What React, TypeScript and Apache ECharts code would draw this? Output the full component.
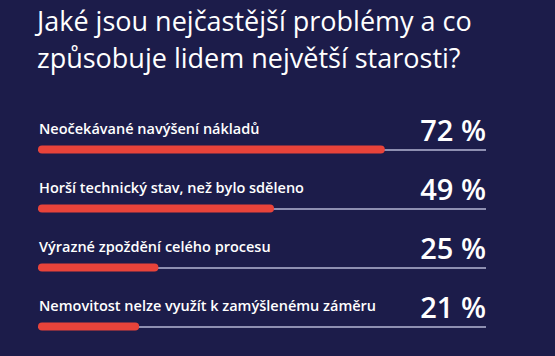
import React, { useEffect, useRef } from "react";
import * as echarts from "echarts";

const titleLines = ["Jaké jsou nejčastější problémy a co", "způsobuje lidem největší starosti?"];
const categories = [
  "Neočekávané navýšení nákladů",
  "Horší technický stav, než bylo sděleno",
  "Výrazné zpoždění celého procesu",
  "Nemovitost nelze využít k zamýšlenému záměru",
];
const values = [72, 49, 25, 21];
const axisMax = 93;

export default function App() {
  const ref = useRef<HTMLDivElement>(null);
  useEffect(() => {
    if (!ref.current) return;
    const chart = echarts.init(ref.current, null, { renderer: "svg" });
    chart.setOption({
      animation: false,
      backgroundColor: "#1c1c4a",
      title: {
        text: titleLines.join("\n"),
        left: 32,
        top: -3,
        textStyle: {
          color: "#ffffff",
          fontFamily: "Open Sans",
          fontWeight: 400,
          fontSize: 27,
          lineHeight: 37,
        },
      },
      grid: { left: 38, width: 448, top: 120, height: 245 },
      xAxis: { type: "value", min: 0, max: axisMax, show: false },
      yAxis: {
        type: "category",
        data: categories,
        inverse: true,
        show: false,
      },
      series: [
        {
          name: "track",
          type: "bar",
          data: categories.map(() => axisMax),
          barWidth: 8,
          z: 1,
          itemStyle: { color: "rgba(0,0,0,0)" },
          label: {
            show: true,
            position: ["100%", -16],
            align: "right",
            verticalAlign: "middle",
            formatter: (p: any) => values[p.dataIndex] + " %",
            color: "#ffffff",
            fontFamily: "Open Sans",
            fontWeight: 600,
            fontSize: 29,
          },
          markLine: {
            silent: true,
            z: 1,
            symbol: "none",
            label: { show: false },
            lineStyle: { color: "#b4b6d4", width: 1.5, type: "solid" },
            data: categories.map((c) => ({ yAxis: c })),
          },
        },
        {
          name: "value",
          type: "bar",
          data: values,
          barWidth: 8,
          barGap: "-100%",
          z: 3,
          itemStyle: { color: "#e8433a", borderRadius: 4 },
          label: {
            show: true,
            position: [1, -17],
            align: "left",
            verticalAlign: "middle",
            formatter: "{b}",
            color: "#ffffff",
            fontFamily: "Open Sans",
            fontWeight: 600,
            fontSize: 14.5,
          },
        },
      ],
    });
    return () => chart.dispose();
  }, []);
  return <div ref={ref} style={{ width: 555, height: 356, position: "fixed", left: 0, top: 0 }} />;
}
